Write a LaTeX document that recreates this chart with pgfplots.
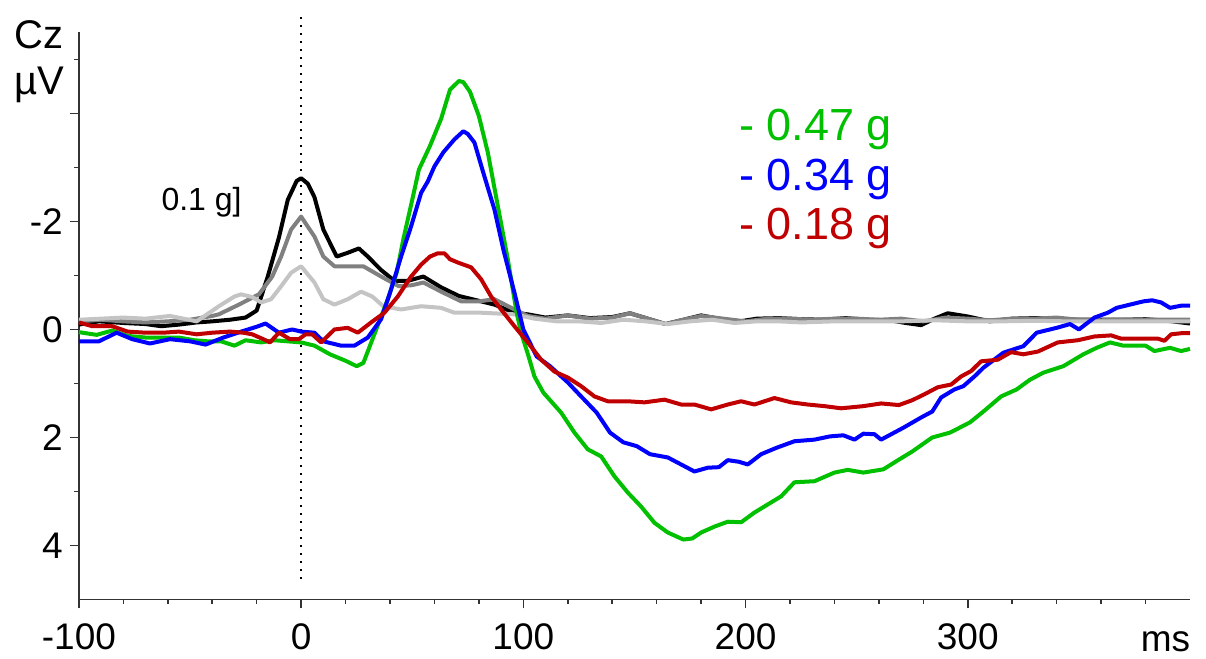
\documentclass[border=0pt]{standalone}
\usepackage{fontspec}
\setmainfont{Liberation Sans}
\usepackage{pgfplots}
\pgfplotsset{compat=1.18}
\usepackage{pgfplotstable}
\definecolor{ErpGreen}{HTML}{00C000}
\definecolor{ErpBlue}{HTML}{0000FF}
\definecolor{ErpRed}{HTML}{C00000}
\definecolor{ErpDark}{HTML}{808080}
\definecolor{ErpLight}{HTML}{C4C4C4}
\definecolor{AxisGray}{HTML}{333333}

\pgfplotstableread{
t v
-100 0.05
-92 0.10
-85 0.02
-78 0.12
-70 0.15
-62 0.15
-55 0.15
-48 0.20
-42 0.22
-36 0.22
-30 0.30
-25 0.20
-18 0.24
-12 0.20
-6 0.22
0 0.24
6 0.30
13 0.46
20 0.58
25 0.68
28 0.62
31 0.30
35 -0.13
39 -0.56
43 -1.05
46 -1.67
50 -2.40
53 -2.96
58 -3.40
63 -3.90
67 -4.44
71 -4.60
73 -4.58
76 -4.40
80 -3.95
84 -3.28
88 -2.40
93 -1.30
97 -0.31
99 0.06
102 0.45
105 0.87
109 1.17
117 1.54
123 1.91
129 2.22
135 2.35
141 2.72
147 3.02
153 3.28
159 3.58
165 3.76
172 3.89
176 3.87
180 3.76
186 3.65
192 3.56
198 3.57
204 3.39
210 3.24
216 3.09
222 2.83
231 2.81
240 2.65
246 2.60
253 2.65
262 2.59
269 2.41
275 2.26
284 2.00
292 1.91
301 1.72
307 1.52
315 1.24
322 1.11
328 0.93
334 0.80
343 0.68
352 0.46
358 0.34
364 0.24
370 0.30
380 0.30
384 0.40
391 0.34
396 0.40
400 0.36
}\greentab

\pgfplotstableread{
t v
-100 0.22
-91 0.22
-83 0.06
-76 0.18
-68 0.26
-59 0.18
-50 0.22
-43 0.28
-35 0.15
-27 0.04
-20 -0.05
-16 -0.11
-10 0.06
-4 0.00
0 0.04
6 0.06
10 0.22
18 0.30
24 0.30
30 0.15
36 -0.19
40 -0.68
45 -1.35
49.5 -1.91
54 -2.53
57 -2.74
60 -3.02
64 -3.28
69 -3.52
73 -3.67
75 -3.62
78 -3.46
82 -2.90
87 -2.22
91 -1.48
96 -0.68
100 0.00
106 0.50
112 0.68
120 0.98
126 1.24
133 1.54
139 1.91
145 2.09
151 2.16
157 2.31
165 2.37
171 2.50
177 2.63
183 2.56
188 2.55
192 2.42
197 2.45
201 2.50
207 2.31
214 2.19
222 2.07
231 2.04
238 1.98
244 1.96
249 2.04
253 1.93
258 1.94
261 2.04
266 1.93
271 1.82
279 1.63
284 1.52
288 1.26
294 1.11
298 1.05
303 0.87
307 0.71
316 0.43
325 0.31
331 0.06
340 -0.03
346 -0.10
350 0.00
357 -0.22
363 -0.31
367 -0.40
373 -0.46
379 -0.52
383 -0.54
387 -0.50
391 -0.40
396 -0.44
400 -0.44
}\bluetab

\pgfplotstableread{
t v
-100 -0.13
-94 -0.06
-85 -0.06
-78 0.04
-70 0.06
-62 0.06
-55 0.04
-47 0.09
-40 0.06
-32 0.04
-26 0.06
-22 0.09
-17 0.18
-14 0.24
-10 0.06
-5 0.18
-1 0.18
2 0.09
5 0.09
9 0.24
15 0.00
21 -0.03
25.5 0.06
31.5 -0.13
37.5 -0.31
43.5 -0.61
49.5 -0.98
54 -1.20
58 -1.35
61.5 -1.41
64.5 -1.41
67 -1.30
70.5 -1.24
76.5 -1.15
81 -0.93
85.5 -0.61
90 -0.37
96 -0.06
102 0.24
108 0.56
114 0.78
120 0.89
126 1.05
132 1.24
138 1.33
147 1.33
154.5 1.35
163.5 1.30
171 1.39
177 1.39
184.5 1.48
192 1.39
198 1.33
204 1.39
213 1.27
220.5 1.35
228 1.39
235.5 1.42
243 1.46
253 1.42
261 1.37
269 1.40
275 1.31
280.5 1.20
286.5 1.07
292.5 1.02
297 0.87
301.5 0.77
306 0.59
313.5 0.56
319.5 0.42
325 0.46
331.5 0.41
340.5 0.24
349.5 0.20
357 0.13
364.5 0.11
369 0.17
376.5 0.17
385.5 0.17
388.5 0.21
391.5 0.09
396 0.07
400 0.07
}\redtab

\pgfplotstableread{
t v
-100 -0.09
-91 -0.15
-80 -0.12
-70 -0.10
-63 -0.06
-55 -0.09
-47 -0.13
-40 -0.15
-32 -0.18
-25 -0.22
-20 -0.35
-15 -0.98
-10 -1.70
-6 -2.40
-2 -2.75
0 -2.80
3 -2.70
6 -2.45
10 -1.85
16 -1.35
21 -1.42
26 -1.50
30 -1.35
36 -1.10
42 -0.90
48 -0.90
55 -0.98
63 -0.78
71 -0.62
78 -0.55
87 -0.46
96 -0.31
102 -0.28
110 -0.22
120 -0.26
130 -0.21
140 -0.23
148 -0.30
156 -0.20
164 -0.10
172 -0.18
180 -0.26
188 -0.20
196 -0.14
205 -0.20
215 -0.21
225 -0.19
235 -0.18
245 -0.21
255 -0.18
265 -0.17
272 -0.12
279 -0.08
285 -0.20
291 -0.30
300 -0.24
310 -0.15
320 -0.20
330 -0.21
340 -0.20
350 -0.18
360 -0.18
370 -0.18
380 -0.19
390 -0.16
400 -0.11
}\blacktab

\pgfplotstableread{
t v
-100 -0.15
-90 -0.18
-80 -0.15
-70 -0.13
-60 -0.15
-50 -0.18
-40 -0.25
-37 -0.28
-28 -0.46
-19 -0.65
-13 -0.98
-9 -1.35
-4.5 -1.85
0 -2.09
6 -1.72
10 -1.35
15 -1.17
21 -1.17
28 -1.17
36 -0.98
44 -0.80
50 -0.82
55 -0.87
63 -0.70
72 -0.52
80 -0.52
87 -0.56
96 -0.37
102 -0.25
110 -0.20
120 -0.26
130 -0.20
140 -0.22
148 -0.30
156 -0.20
164 -0.10
172 -0.18
180 -0.25
190 -0.20
200 -0.15
210 -0.20
220 -0.20
230 -0.18
240 -0.20
250 -0.20
260 -0.18
270 -0.20
280 -0.15
290 -0.22
300 -0.20
310 -0.17
320 -0.20
330 -0.20
340 -0.22
350 -0.18
360 -0.17
370 -0.18
380 -0.18
390 -0.18
400 -0.18
}\darktab

\pgfplotstableread{
t v
-100 -0.18
-90 -0.20
-80 -0.22
-70 -0.20
-59 -0.25
-47 -0.15
-37 -0.43
-30 -0.61
-27 -0.65
-22 -0.60
-18 -0.50
-13.5 -0.56
-9 -0.80
-4.5 -1.05
0 -1.17
6 -0.87
10 -0.56
15 -0.46
21 -0.56
27 -0.70
32 -0.61
37 -0.43
45 -0.37
54 -0.43
63 -0.40
69 -0.31
81 -0.31
96 -0.28
105 -0.20
115 -0.15
125 -0.15
135 -0.12
145 -0.18
155 -0.15
165 -0.10
175 -0.15
185 -0.18
195 -0.12
205 -0.15
215 -0.15
225 -0.13
240 -0.15
255 -0.15
270 -0.15
285 -0.17
300 -0.15
315 -0.15
330 -0.16
345 -0.15
360 -0.15
375 -0.15
390 -0.15
400 -0.15
}\lighttab

\begin{document}
\begin{tikzpicture}
\begin{axis}[
  scale only axis,
  width=555.5pt,
  height=283.5pt,
  xmin=-100, xmax=400,
  ymin=-5.5, ymax=5,
  y dir=reverse,
  axis x line*=bottom,
  axis y line*=left,
  axis line style={AxisGray, line width=0.8pt},
  tick style={AxisGray, line width=0.8pt},
  tick align=outside,
  major tick length=4.5pt,
  minor tick length=2.2pt,
  xtick={-100,0,100,200,300},
  xticklabels={-100,0,100,200,300},
  minor xtick={-80,-60,-40,-20,20,40,60,80,120,140,160,180,220,240,260,280,320,340,360,380},
  ytick={-4,-2,0,2,4},
  yticklabels={,-2,0,2,4},
  minor ytick={-5,-3,-1,1,3},
  tick label style={font=\fontsize{18.5}{18.5}\selectfont},
  xticklabel style={yshift=-4pt},
  clip=false,
  every axis plot/.append style={line width=2pt, line join=round},
]
\path (axis cs:-135.5,-6.1) rectangle (axis cs:407.2,6.05);
\draw[black, line width=1pt, dash pattern=on 1pt off 3pt] (axis cs:0,-5.78) -- (axis cs:0,4.72);
\addplot[black] table[x=t,y=v] {\blacktab};
\addplot[ErpDark] table[x=t,y=v] {\darktab};
\addplot[ErpLight] table[x=t,y=v] {\lighttab};
\addplot[ErpGreen] table[x=t,y=v] {\greentab};
\addplot[ErpBlue] table[x=t,y=v] {\bluetab};
\addplot[ErpRed] table[x=t,y=v] {\redtab};
\node[anchor=west, font=\fontsize{20}{20}\selectfont, inner sep=0pt] at (axis cs:-129,-5.46) {Cz};
\node[anchor=west, font=\fontsize{20}{20}\selectfont, inner sep=0pt] at (axis cs:-129,-4.52) {µV};
\node[anchor=west, font=\fontsize{16}{16}\selectfont, inner sep=0pt] at (axis cs:-63,-2.35) {0.1 g]};
\node[anchor=west, font=\fontsize{22.5}{22.5}\selectfont, inner sep=0pt, text=ErpGreen] at (axis cs:197,-3.70) {- 0.47 g};
\node[anchor=west, font=\fontsize{22.5}{22.5}\selectfont, inner sep=0pt, text=ErpBlue] at (axis cs:197,-2.78) {- 0.34 g};
\node[anchor=west, font=\fontsize{22.5}{22.5}\selectfont, inner sep=0pt, text=ErpRed] at (axis cs:197,-1.87) {- 0.18 g};
\node[anchor=north, font=\fontsize{18.5}{18.5}\selectfont, yshift=-12.5pt] at (axis cs:389,5) {ms};
\end{axis}
\end{tikzpicture}
\end{document}
